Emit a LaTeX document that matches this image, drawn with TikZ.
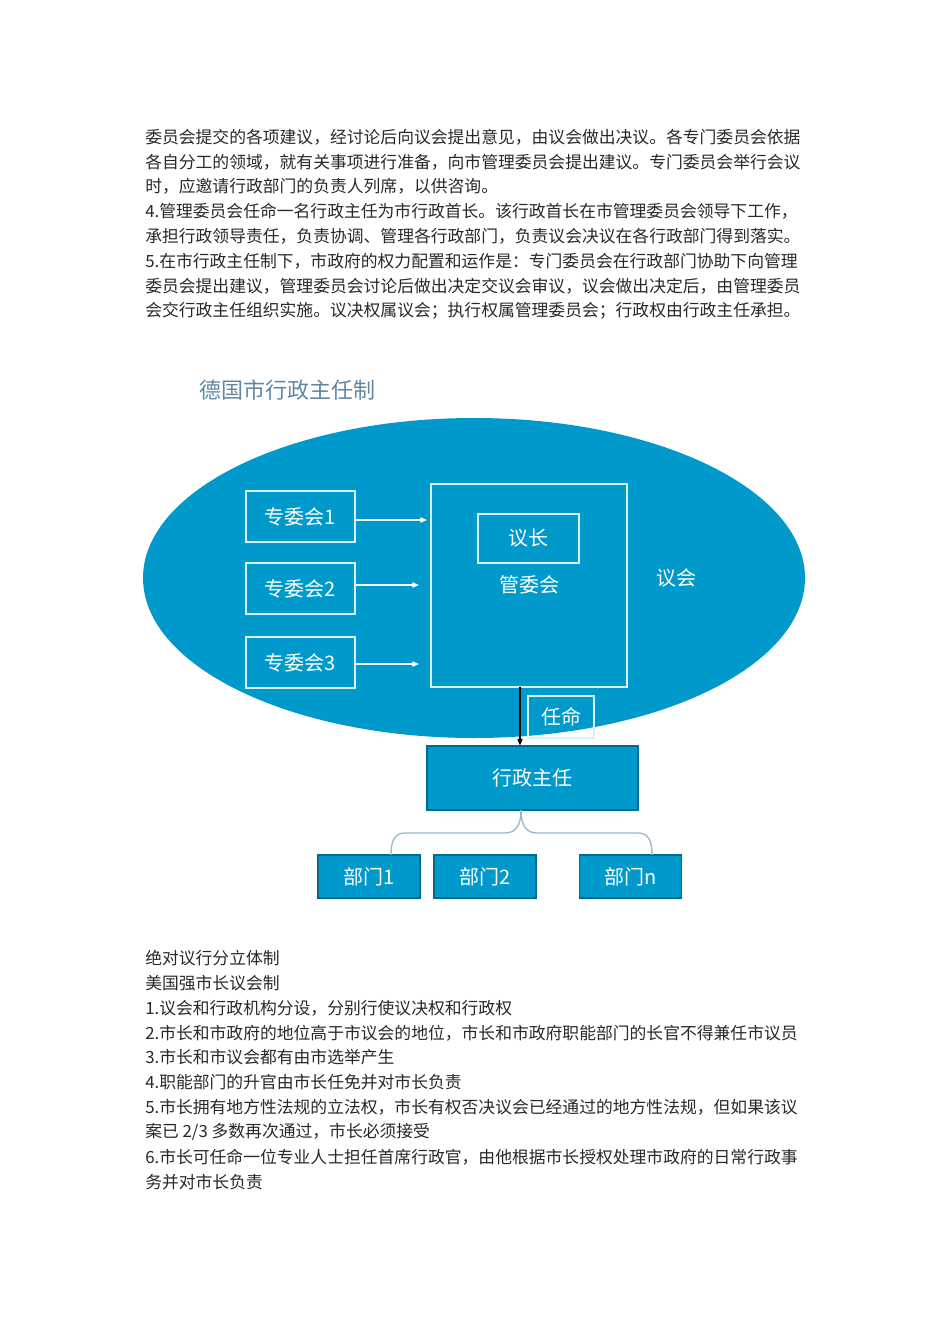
\documentclass[tikz,border=0pt]{standalone}
\usepackage{fontspec}
\setmainfont{Noto Sans CJK SC}
\usetikzlibrary{arrows.meta}
\definecolor{eblue}{RGB}{0,153,204}
\definecolor{ttl}{RGB}{95,135,165}
\definecolor{txt}{RGB}{40,40,40}
\definecolor{lnk}{RGB}{150,185,205}
\begin{document}
\begin{tikzpicture}[x=0.75pt,y=-0.75pt,
  para/.style={anchor=west,inner sep=0,font=\fontsize{12.6pt}{15pt}\selectfont,text=txt},
  wbox/.style={draw=white!85!eblue,line width=0.8pt,text=white,font=\fontsize{15pt}{18pt}\selectfont,inner sep=0},
  fbox/.style={fill=eblue,draw=eblue!70!black,line width=0.8pt,text=white,font=\fontsize{15pt}{18pt}\selectfont,inner sep=0},
  warr/.style={draw=white,line width=0.8pt,-{Triangle[length=5pt,width=4pt]}},
  brace/.style={draw=lnk,line width=1pt}]
\useasboundingbox (0,0) rectangle (950,1344);
% top paragraph
\node[para] (t1) at (145,137) {委员会提交的各项建议，经讨论后向议会提出意见，由议会做出决议。各专门委员会依据};
\node[para] (t2) at (145,162) {各自分工的领域，就有关事项进行准备，向市管理委员会提出建议。专门委员会举行会议};
\node[para] (t3) at (145,186) {时，应邀请行政部门的负责人列席，以供咨询。};
\node[para] (t4) at (145,211) {4.管理委员会任命一名行政主任为市行政首长。该行政首长在市管理委员会领导下工作，};
\node[para] (t5) at (145,236) {承担行政领导责任，负责协调、管理各行政部门，负责议会决议在各行政部门得到落实。};
\node[para] (t6) at (145,261) {5.在市行政主任制下，市政府的权力配置和运作是：专门委员会在行政部门协助下向管理};
\node[para] (t7) at (145,286) {委员会提出建议，管理委员会讨论后做出决定交议会审议，议会做出决定后，由管理委员};
\node[para] (t8) at (145,311) {会交行政主任组织实施。议决权属议会；执行权属管理委员会；行政权由行政主任承担。};
% title
\node[anchor=west,inner sep=0,text=ttl,font=\fontsize{16.5pt}{20pt}\selectfont] (title) at (199,390) {德国市行政主任制};
% ellipse
\fill[eblue] (474,578) ellipse [x radius=331, y radius=160];
\node[wbox,minimum width=81.75pt,minimum height=38.25pt] (z1) at (300.5,516.5) {专委会1};
\node[wbox,minimum width=81.75pt,minimum height=38.25pt] (z2) at (300.5,588.5) {专委会2};
\node[wbox,minimum width=81.75pt,minimum height=38.25pt] (z3) at (300.5,662.5) {专委会3};
\node[wbox,minimum width=147pt,minimum height=152.25pt] (gw) at (529,585.5) {};
\node[wbox,minimum width=75.75pt,minimum height=36.75pt] (yz) at (528.5,538.5) {议长};
\node[text=white,font=\fontsize{15pt}{18pt}\selectfont,inner sep=0] (gwt) at (529,585) {管委会};
\node[text=white,font=\fontsize{15pt}{18pt}\selectfont,inner sep=0] (yh) at (676,578) {议会};
\coordinate (a1) at (427,520);
\coordinate (a2) at (419,585);
\coordinate (a3) at (419,664);
\draw[warr] (z1.east |- a1) -- (a1);
\draw[warr] (z2.east |- a2) -- (a2);
\draw[warr] (z3.east |- a3) -- (a3);
\node[wbox,minimum width=49.5pt,minimum height=31.5pt] (rm) at (561,717) {任命};
\node[fbox,minimum width=158.25pt,minimum height=48pt] (xz) at (532.5,778) {行政主任};
\coordinate (gb) at (520,687);
\draw[black,line width=0.8pt,-{Triangle[length=5pt,width=4pt]}] (gb) -- (gb |- xz.north);
\node[fbox,minimum width=76.5pt,minimum height=32.25pt] (b1) at (369,876.5) {部门1};
\node[fbox,minimum width=76.5pt,minimum height=32.25pt] (b2) at (485,876.5) {部门2};
\node[fbox,minimum width=76.5pt,minimum height=32.25pt] (bn) at (630.5,876.5) {部门n};
\coordinate (xb) at (521,810);
\draw[brace] (xb) .. controls (521,825) and (516,833) .. (505,833) -- (405,833) .. controls (395,833) and (391,840) .. (391,855);
\draw[brace] (xb) .. controls (521,825) and (526,833) .. (537,833) -- (638,833) .. controls (648,833) and (652,840) .. (652,855);
% bottom text
\node[para] (u1) at (145,958) {绝对议行分立体制};
\node[para] (u2) at (145,983) {美国强市长议会制};
\node[para] (u3) at (145,1008) {1.议会和行政机构分设，分别行使议决权和行政权};
\node[para] (u4) at (145,1033) {2.市长和市政府的地位高于市议会的地位，市长和市政府职能部门的长官不得兼任市议员};
\node[para] (u5) at (145,1057) {3.市长和市议会都有由市选举产生};
\node[para] (u6) at (145,1082) {4.职能部门的升官由市长任免并对市长负责};
\node[para] (u7) at (145,1107) {5.市长拥有地方性法规的立法权，市长有权否决议会已经通过的地方性法规，但如果该议};
\node[para] (u8) at (145,1132) {案已 2/3 多数再次通过，市长必须接受};
\node[para] (u9) at (145,1157) {6.市长可任命一位专业人士担任首席行政官，由他根据市长授权处理市政府的日常行政事};
\node[para] (u10) at (145,1182) {务并对市长负责};
\end{tikzpicture}
\end{document}
